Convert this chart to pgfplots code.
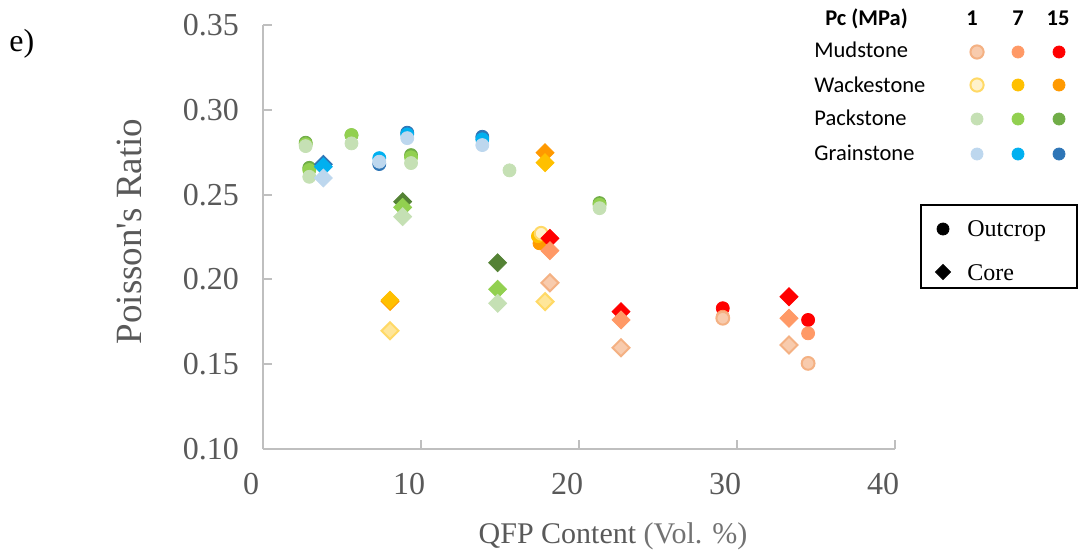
\documentclass[border=0pt]{standalone}
\usepackage{fontspec}
\setmainfont{Liberation Serif}
\newfontfamily\calibri{Carlito}
\usepackage{pgfplots}
\pgfplotsset{compat=1.18}

\definecolor{mudA}{HTML}{F8CBAD}\definecolor{mudAe}{HTML}{F4B183}
\definecolor{mudB}{HTML}{FF9966}
\definecolor{mudC}{HTML}{FF0000}
\definecolor{wakA}{HTML}{FFE699}\definecolor{wakAe}{HTML}{FFD966}\definecolor{wakAc}{HTML}{FFF2CC}
\definecolor{wakB}{HTML}{FFC000}
\definecolor{wakC}{HTML}{FF9900}
\definecolor{pakA}{HTML}{C5E0B4}
\definecolor{pakB}{HTML}{92D050}
\definecolor{pakC}{HTML}{70AD47}
\definecolor{pakCd}{HTML}{548235}
\definecolor{grnA}{HTML}{BDD7EE}
\definecolor{grnB}{HTML}{00B0F0}
\definecolor{grnC}{HTML}{2E75B6}
\definecolor{axisgray}{HTML}{BFBFBF}
\definecolor{labelgray}{HTML}{595959}

\pgfplotsset{
  outc/.style={only marks, mark=*, mark size=3.25pt, mark options={draw=#1, fill=#1}},
  outcE/.style 2 args={only marks, mark=*, mark size=3.2pt, mark options={draw=#1, fill=#2, line width=1pt}},
  core/.style={only marks, mark=square*, mark size=3.18pt, mark options={rotate=45, draw=#1, fill=#1}},
  coreE/.style 2 args={only marks, mark=square*, mark size=3.0pt, mark options={rotate=45, draw=#1, fill=#2, line width=1pt}},
}

\begin{document}
\begin{tikzpicture}
\path[use as bounding box] (0,0) rectangle (539.5pt,279pt);

\begin{axis}[
  at={(131.5pt,54.5pt)}, anchor=south west,
  scale only axis, width=316pt, height=212pt,
  xmin=0, xmax=40, ymin=0.10, ymax=0.35,
  axis x line=bottom, axis y line=left,
  axis line style={-, draw=axisgray, line width=1pt},
  tick align=inside, major tick length=4.5pt,
  tick style={draw=axisgray, line width=1pt},
  xtick={0,10,20,30,40},
  ytick={0.10,0.15,0.20,0.25,0.30,0.35},
  /pgf/number format/assume math mode=true,
  ticklabel style={font=\fontsize{16}{16}\selectfont, text=labelgray},
  yticklabel style={/pgf/number format/.cd, fixed, fixed zerofill, precision=2, /tikz/.cd, xshift=-8.5pt},
  xticklabel style={xshift=-6pt, yshift=-8.5pt},
  xlabel={QFP Content \textcolor{labelgray!85}{(Vol. \%)}},
  xlabel style={at={(axis description cs:0.5538,-0.2052)}, anchor=center,
    font=\fontsize{15}{15}\selectfont, text=labelgray},
  ylabel={Poisson\textquotesingle s Ratio},
  ylabel style={at={(axis description cs:-0.212,0.513)}, anchor=center, rotate=0,
    font=\fontsize{18.5}{18.5}\selectfont, text=labelgray},
]
% Wackestone
\addplot[outc=wakC] coordinates {(17.5,0.2213)};
\addplot[outc=wakB] coordinates {(17.4,0.2255)};
\addplot[outcE={wakAe}{wakAc}] coordinates {(17.6,0.2272)};
\addplot[core=wakC] coordinates {(8.04,0.1870) (17.85,0.2747)};
\addplot[core=wakB] coordinates {(8.04,0.1878) (17.85,0.2688)};
\addplot[coreE={wakAe}{wakA}] coordinates {(8.04,0.1697) (17.85,0.1869)};
% Packstone
\addplot[outc=pakC] coordinates {(2.70,0.2806) (2.93,0.2658) (5.60,0.2850) (9.37,0.2733) (21.3,0.2450)};
\addplot[outc=pakB] coordinates {(2.70,0.2797) (2.93,0.2645) (5.60,0.2851) (9.37,0.2720) (21.3,0.2440)};
\addplot[outc=pakA] coordinates {(2.70,0.2786) (2.93,0.2605) (5.60,0.2802) (9.37,0.2686) (21.3,0.2420) (15.6,0.2643)};
\addplot[core=pakCd] coordinates {(8.84,0.2458) (14.85,0.2098)};
\addplot[core=pakB] coordinates {(8.84,0.2425) (14.85,0.1942)};
\addplot[core=pakA] coordinates {(8.84,0.2370) (14.85,0.1859)};
% Grainstone
\addplot[outc=grnC] coordinates {(7.36,0.2680) (9.13,0.2865) (13.88,0.2841)};
\addplot[outc=grnB] coordinates {(7.36,0.2715) (9.13,0.2855) (13.88,0.2826)};
\addplot[outc=grnA] coordinates {(7.36,0.2694) (9.13,0.2833) (13.88,0.2792)};
\addplot[core=grnC] coordinates {(3.82,0.2679)};
\addplot[core=grnB] coordinates {(3.82,0.2664)};
\addplot[core=grnA] coordinates {(3.82,0.2598)};
% Mudstone
\addplot[outc=mudC] coordinates {(29.1,0.1830) (34.5,0.1761)};
\addplot[outc=mudB] coordinates {(29.1,0.1780) (34.5,0.1682)};
\addplot[outcE={mudAe}{mudA}] coordinates {(29.1,0.1771) (34.5,0.1505)};
\addplot[core=mudC] coordinates {(18.16,0.2242) (22.66,0.1810) (33.29,0.1898)};
\addplot[core=mudB] coordinates {(18.16,0.2169) (22.66,0.1761) (33.29,0.1771)};
\addplot[coreE={mudAe}{mudA}] coordinates {(18.16,0.1980) (22.66,0.1597) (33.29,0.1613)};
\end{axis}

% key symbols, placed on a page-sized grid (units of the 1079 x 558 layout)
\begin{axis}[
  at={(0pt,0pt)}, anchor=south west,
  scale only axis, width=539.5pt, height=279pt,
  xmin=0, xmax=1079, ymin=0, ymax=558, y dir=reverse,
  hide axis, clip=false,
]
\addplot[outcE={mudAe}{mudA}, mark size=3.3pt] coordinates {(977,52)};
\addplot[outc=mudB, mark size=3pt] coordinates {(1018,52)};
\addplot[outc=mudC, mark size=3pt] coordinates {(1059,52)};
\addplot[outcE={wakAe}{wakAc}, mark size=3.3pt] coordinates {(977,85)};
\addplot[outc=wakB, mark size=3pt] coordinates {(1018,85)};
\addplot[outc=wakC, mark size=3pt] coordinates {(1059,85)};
\addplot[outc=pakA, mark size=3pt] coordinates {(977,119)};
\addplot[outc=pakB, mark size=3pt] coordinates {(1018,119)};
\addplot[outc=pakC, mark size=3pt] coordinates {(1059,119)};
\addplot[outc=grnA, mark size=3pt] coordinates {(977,154)};
\addplot[outc=grnB, mark size=3pt] coordinates {(1018,154)};
\addplot[outc=grnC, mark size=3pt] coordinates {(1059,154)};
\addplot[outc=black, mark size=3pt] coordinates {(943,229)};
\addplot[core=black, mark size=2.65pt] coordinates {(943,272)};
\end{axis}

\begin{scope}[x=0.5pt, y=-0.5pt, yshift=279pt]
  \node[anchor=base west, inner sep=0pt, font=\fontsize{16}{16}\selectfont] at (9,52) {e)};
  % pressure / texture key
  \begin{scope}[every node/.style={inner sep=0pt, font=\calibri\fontsize{11.25}{12}\selectfont}]
    \node[anchor=base west, font=\calibri\bfseries\fontsize{11.25}{12}\selectfont] at (825,26) {Pc (MPa)};
    \node[anchor=base, font=\calibri\bfseries\fontsize{11.25}{12}\selectfont] at (972,26) {1};
    \node[anchor=base, font=\calibri\bfseries\fontsize{11.25}{12}\selectfont] at (1018,26) {7};
    \node[anchor=base, font=\calibri\bfseries\fontsize{11.25}{12}\selectfont] at (1058,26) {15};
    \node[anchor=base west] at (814,58) {Mudstone};
    \node[anchor=base west] at (814,92.5) {Wackestone};
    \node[anchor=base west] at (814,126) {Packstone};
    \node[anchor=base west] at (814,160.5) {Grainstone};
  \end{scope}
  % sample type key
  \draw[black, line width=1pt] (921,205) rectangle (1077,288);
  \node[anchor=base west, inner sep=0pt, font=\fontsize{12}{12}\selectfont] at (967,236) {Outcrop};
  \node[anchor=base west, inner sep=0pt, font=\fontsize{12}{12}\selectfont] at (967,280) {Core};
\end{scope}
\end{tikzpicture}
\end{document}
